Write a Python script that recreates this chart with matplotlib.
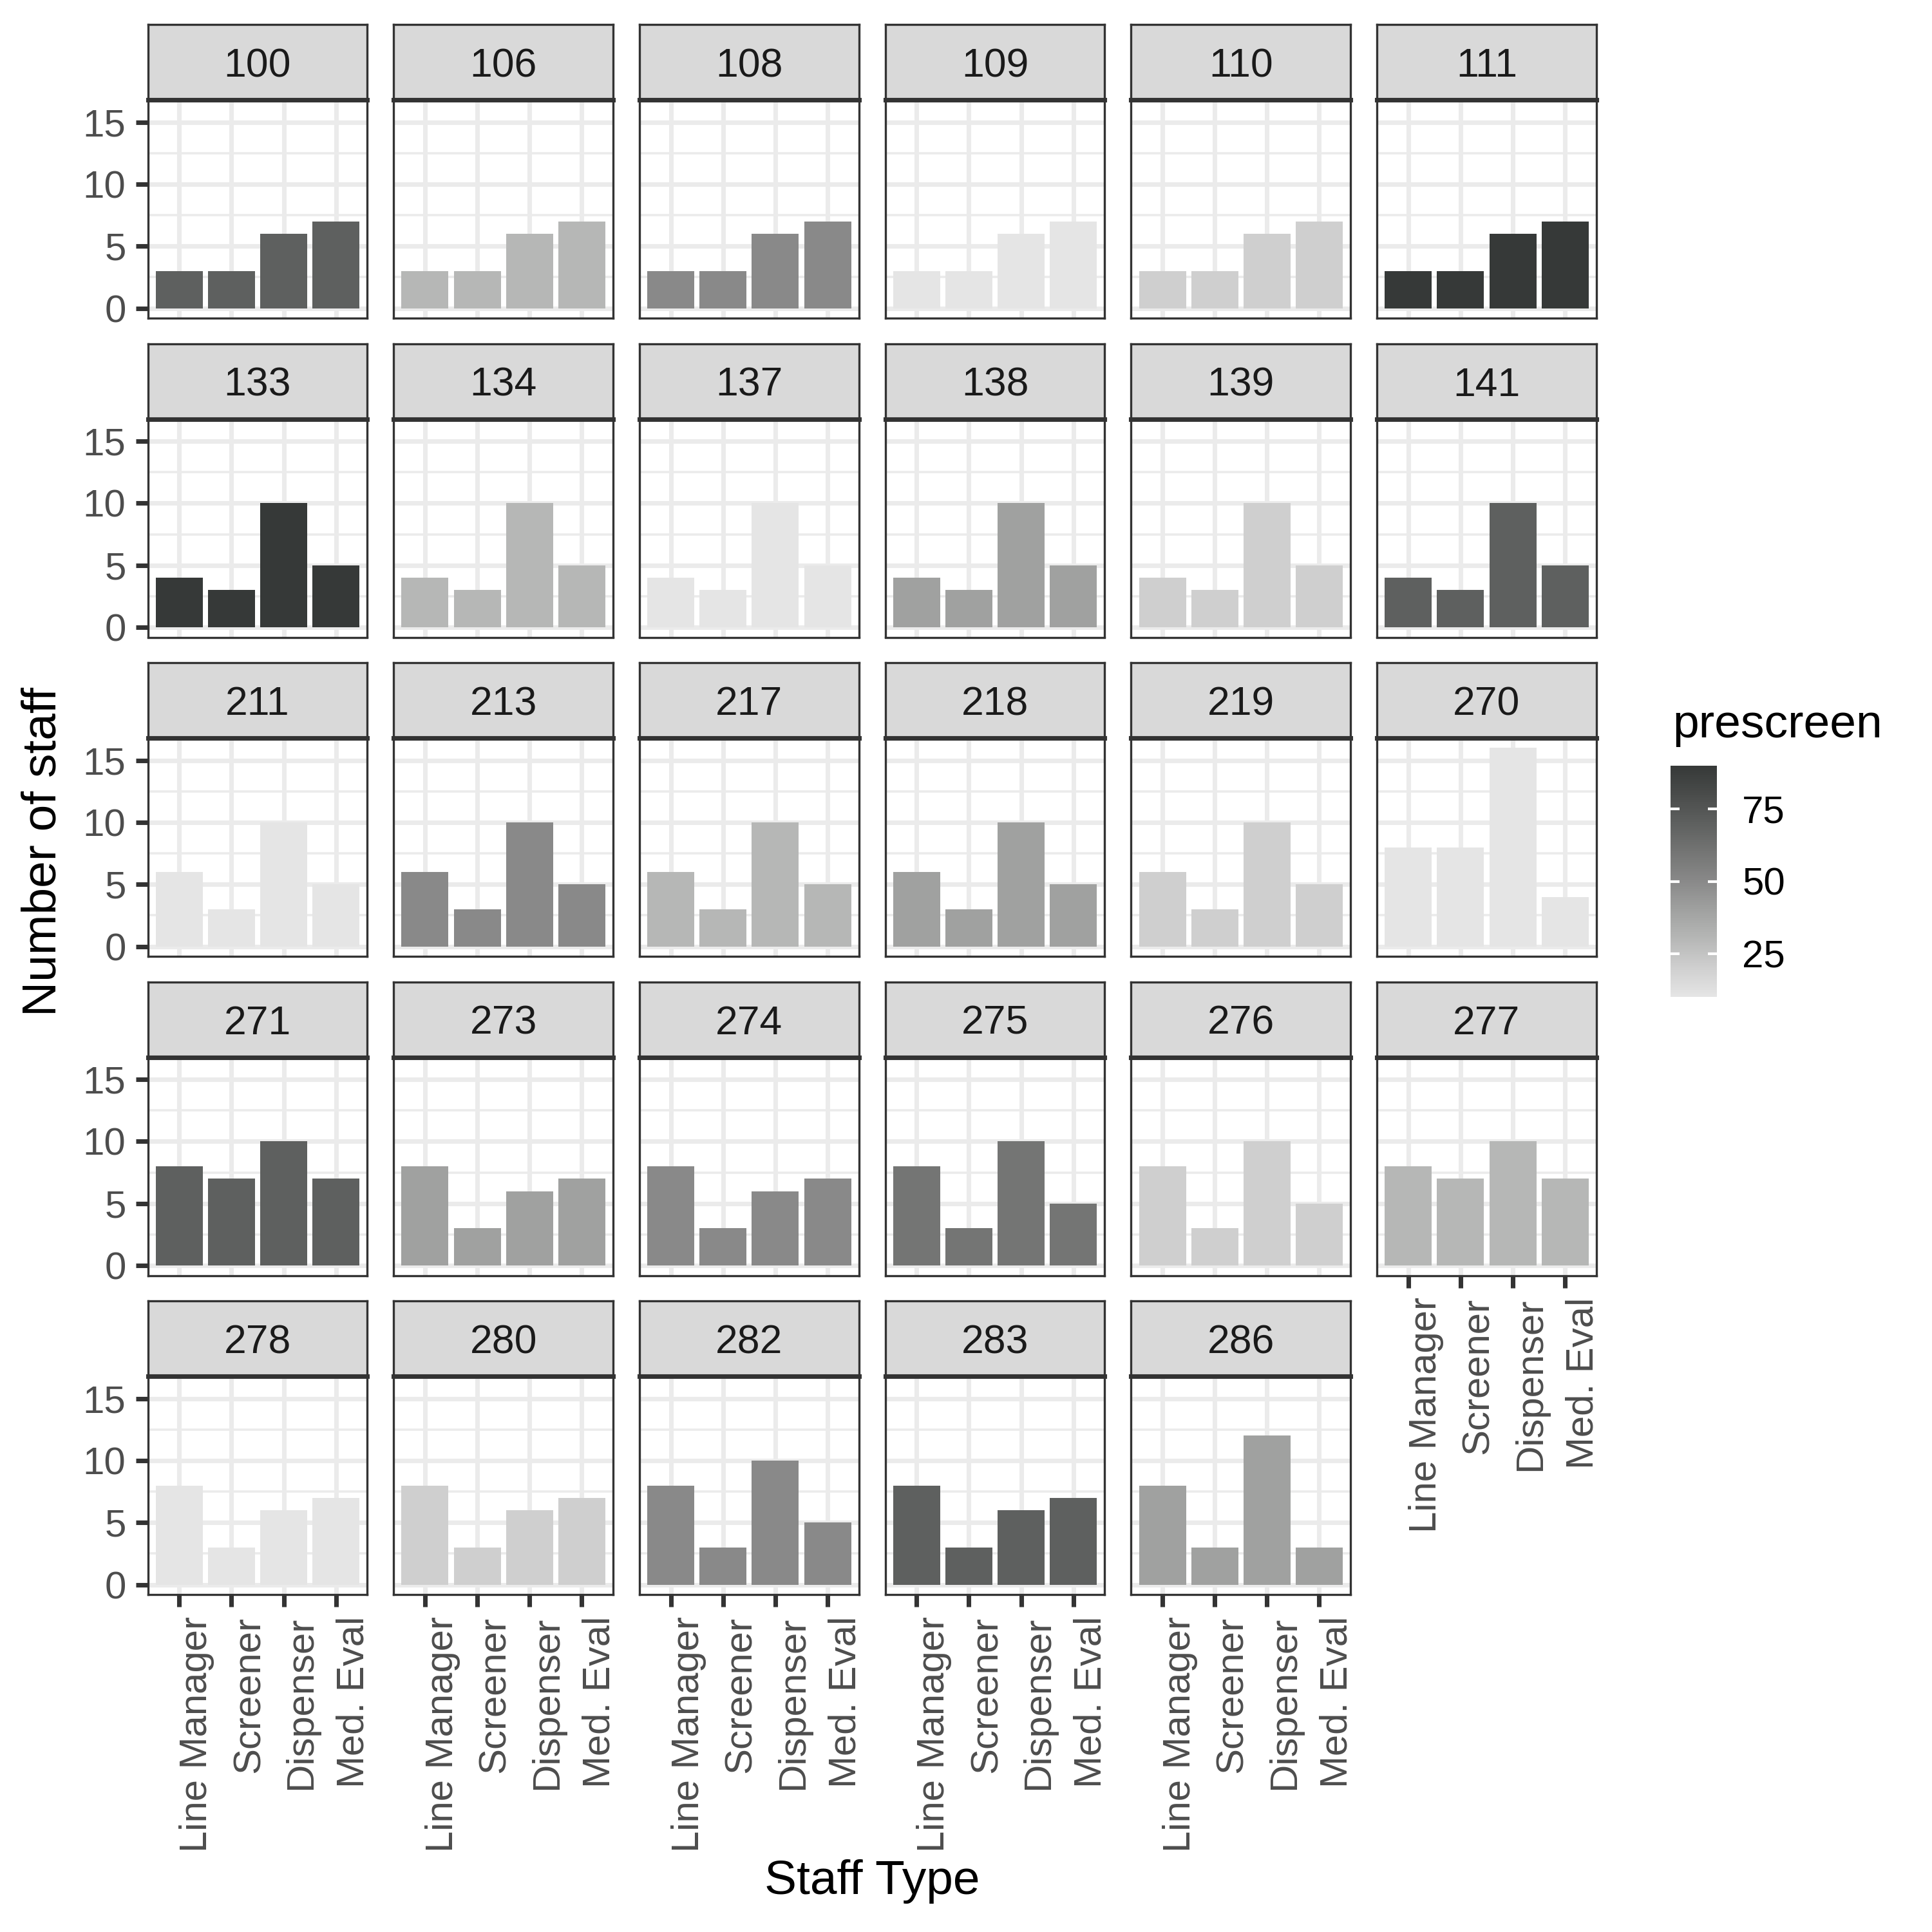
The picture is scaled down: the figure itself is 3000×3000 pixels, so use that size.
import matplotlib
matplotlib.use("Agg")
import matplotlib.pyplot as plt
from matplotlib.colors import LinearSegmentedColormap, Normalize
from matplotlib.cm import ScalarMappable

plt.rcParams["font.family"] = ["Liberation Sans", "DejaVu Sans"]

# data
site = ["100", "106", "108", "109", "110", "111",
        "133", "134", "137", "138", "139", "141",
        "211", "213", "217", "218", "219", "270",
        "271", "273", "274", "275", "276", "277",
        "278", "280", "282", "283", "286"]
staff_type = ["Line Manager", "Screener", "Dispenser", "Med. Eval"]
line_manager = [3, 3, 3, 3, 3, 3, 4, 4, 4, 4, 4, 4, 6, 6, 6, 6, 6, 8,
                8, 8, 8, 8, 8, 8, 8, 8, 8, 8, 8]
screener = [3, 3, 3, 3, 3, 3, 3, 3, 3, 3, 3, 3, 3, 3, 3, 3, 3, 8,
            7, 3, 3, 3, 3, 7, 3, 3, 3, 3, 3]
dispenser = [6, 6, 6, 6, 6, 6, 10, 10, 10, 10, 10, 10, 10, 10, 10, 10, 10, 16,
             10, 6, 6, 10, 10, 10, 6, 6, 10, 6, 12]
med_eval = [7, 7, 7, 7, 7, 7, 5, 5, 5, 5, 5, 5, 5, 5, 5, 5, 5, 4,
            7, 7, 7, 5, 5, 7, 7, 7, 5, 7, 3]
prescreen = [70, 30, 50, 10, 20, 90, 90, 30, 10, 40, 20, 70, 10, 50, 30, 40, 20, 10,
             70, 40, 50, 60, 20, 30, 10, 20, 50, 70, 40]

# grey gradient like the ggplot fill scale
cmap = LinearSegmentedColormap.from_list(
    "prescreen", ["#E5E5E5", "#CFCFCF", "#B6B7B6", "#A0A1A0", "#898989",
                  "#747574", "#5E605F", "#4A4C4B", "#363938"])
norm = Normalize(10, 90)

W = 3000.0
fig = plt.figure(figsize=(10, 10), dpi=300)

dark = "#333333"
lw = 1.7      # ticks / major grid
blw = 0.8     # visible panel border (clipped in ggplot)
tick_fs = 14.4

n = len(site)
for i, s in enumerate(site):
    r, c = divmod(i, 6)
    left = 229.6 + c * 381.7
    strip_top = 38 + r * 495.5
    panel_top = strip_top + 117
    panel_bot = panel_top + 339
    pw = 340.7

    ax = fig.add_axes([left / W, 1 - panel_bot / W, pw / W, 339 / W])
    vals = [line_manager[i], screener[i], dispenser[i], med_eval[i]]
    ax.bar([1, 2, 3, 4], vals, width=0.9, color=cmap(norm(prescreen[i])),
           zorder=2)
    ax.set_xlim(0.4, 4.6)
    ax.set_ylim(-0.8, 16.8)
    ax.set_xticks([1, 2, 3, 4])
    ax.set_yticks([0, 5, 10, 15])
    ax.set_yticks([2.5, 7.5, 12.5], minor=True)
    ax.set_axisbelow(True)
    ax.grid(True, which="major", color="#EBEBEB", linewidth=lw, zorder=0)
    ax.grid(True, which="minor", axis="y", color="#EBEBEB", linewidth=0.85, zorder=0)
    ax.tick_params(which="minor", length=0)
    for sp in ax.spines.values():
        sp.set_color(dark)
        sp.set_linewidth(blw)
        sp.set_zorder(5)

    show_x = i >= n - 6
    show_y = c == 0
    ax.tick_params(axis="x", length=4.56 if show_x else 0, width=lw, color=dark,
                   labelbottom=show_x, pad=3.6, labelsize=tick_fs, labelcolor="#4D4D4D")
    ax.tick_params(axis="y", which="major", length=4.56 if show_y else 0, width=lw,
                   color=dark, labelleft=show_y, pad=3.6, labelsize=tick_fs,
                   labelcolor="#4D4D4D")
    if show_x:
        ax.set_xticklabels(staff_type, rotation=90, rotation_mode="anchor",
                           ha="right", va="top")

    sax = fig.add_axes([left / W, 1 - panel_top / W, pw / W, 117 / W])
    sax.set_facecolor("#D9D9D9")
    sax.set_xticks([])
    sax.set_yticks([])
    for sp in sax.spines.values():
        sp.set_color(dark)
        sp.set_linewidth(blw)
    sax.spines["bottom"].set_linewidth(lw)
    sax.text(0.5, 0.305, s, ha="center", va="baseline", fontsize=15,
             color="#1A1A1A", transform=sax.transAxes)

fig.text(67 / W, 1 - 1322 / W, "Number of staff", rotation=90, ha="center",
         va="center", fontsize=18)
fig.text(1354 / W, 1 - 2921 / W, "Staff Type", ha="center", va="center",
         fontsize=18)

# colour bar legend
cax = fig.add_axes([2594 / W, 1 - 1548 / W, 72 / W, 359 / W])
cb = fig.colorbar(ScalarMappable(norm=norm, cmap=cmap), cax=cax)
cb.outline.set_visible(False)
cb.set_ticks([25, 50, 75])
cax.tick_params(length=0, pad=9.4, labelsize=tick_fs, labelcolor="black")
cax.hlines([25, 50, 75], 0, 0.2, color="white", linewidth=1.0)
cax.hlines([25, 50, 75], 0.8, 1.0, color="white", linewidth=1.0)
fig.text(2597 / W, 1 - 1145 / W, "prescreen", ha="left", va="baseline",
         fontsize=17.6)

fig.savefig("out.png", dpi=300)
